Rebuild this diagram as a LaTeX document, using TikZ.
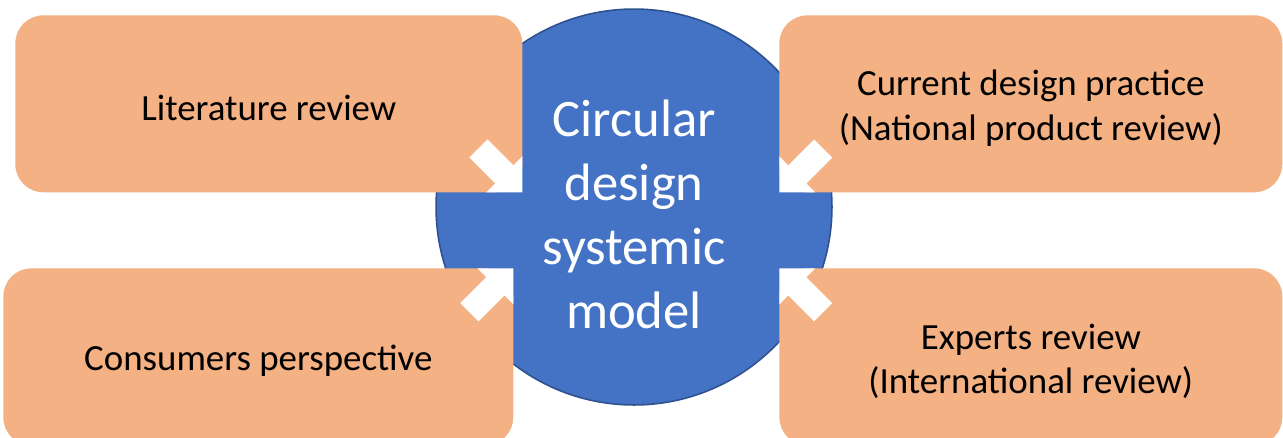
\documentclass[tikz,border=0pt]{standalone}
\usepackage{fontspec}
\setmainfont{Carlito}
\usepackage{tikz}
\usepackage{xcolor}
\usetikzlibrary{shapes.arrows}

\definecolor{boxorange}{HTML}{F4B183}
\definecolor{hubblue}{HTML}{4472C4}
\definecolor{hubedge}{HTML}{2F528F}

\begin{document}
\begin{tikzpicture}[x=0.02cm, y=-0.02cm,
    source/.style={fill=boxorange, rounded corners=0.56cm, minimum height=3.54cm,
        anchor=north west, align=center, inner sep=0pt, text height=19pt,
        font=\fontsize{21}{25.5}\selectfont},
    hub/.style={circle, fill=hubblue, draw=hubedge, line width=0.9pt,
        minimum size=7.92cm, inner sep=0pt, align=center, text=white,
        text height=139pt, font=\fontsize{30}{36.5}\selectfont},
    feed/.style={single arrow, fill=white, inner xsep=0pt, inner ysep=0.25cm,
        minimum height=1.24cm, single arrow head extend=0.25cm,
        single arrow tip angle=90, anchor=tip}]
    % Page area (units are pixels), lower boxes run past the bottom edge
    \clip (0,0) rectangle (1283,437);
    \fill[white] (0,0) rectangle (1283,437);

    % Central model
    \node[hub] (model) at (634,207) {Circular\\design\\systemic\\model};

    % Four sources feeding the model
    \node[source, minimum width=10.14cm] (lit) at (15,15) {Literature review};
    \node[source, minimum width=10.06cm, text height=45pt] (practice) at (779,15)
        {Current design practice\\(National product review)};
    \node[source, minimum width=10.2cm] (consumers) at (3,268) {Consumers perspective};
    \node[source, minimum width=10.06cm, text height=45pt] (experts) at (779,268)
        {Experts review\\(International review)};

    % White arrows at the inner corners, pointing at the circle
    \node[feed, rotate=-45] (litarrow) at (lit.south east) {};
    \node[feed, rotate=-135] (practicearrow) at (practice.south west) {};
    \node[feed, rotate=45] (consumersarrow) at (consumers.north east) {};
    \node[feed, rotate=135] (expertsarrow) at (experts.north west) {};
\end{tikzpicture}
\end{document}
